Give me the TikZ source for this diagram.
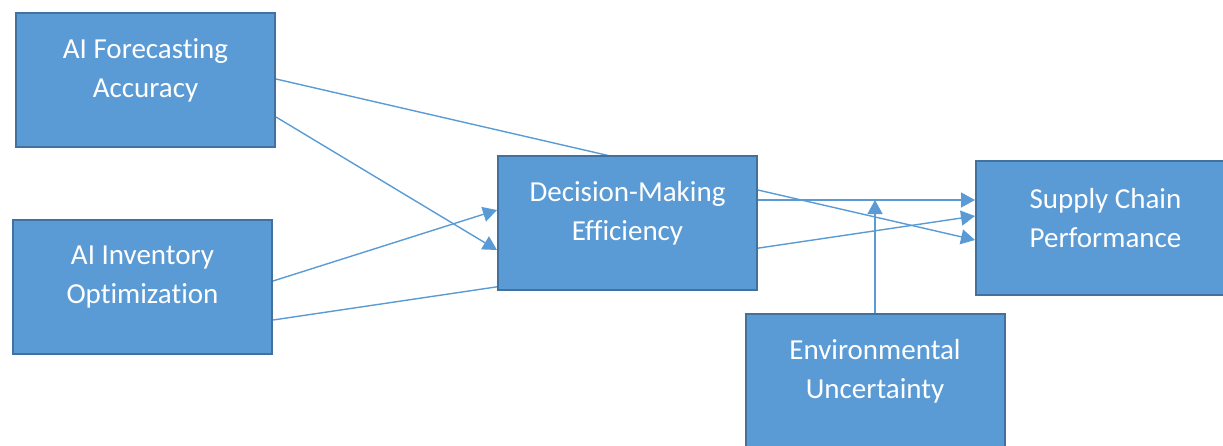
\documentclass[tikz,border=0pt]{standalone}
\usepackage{xcolor}
\usepackage{fontspec}
\setmainfont{Carlito}[Ligatures=NoCommon,Contextuals=NoAlternate]
\usetikzlibrary{arrows.meta,backgrounds}
\definecolor{boxblue}{HTML}{5B9BD5}
\definecolor{boxedge}{HTML}{41719C}

\begin{document}
\begin{tikzpicture}[x=1pt,y=-1pt,
  box/.style={draw=boxedge,fill=boxblue,line width=2pt,minimum width=259pt,minimum height=134pt,inner sep=0pt},
  boxtext/.style={text=white,align=center,font=\fontsize{29}{39}\selectfont},
  link/.style={boxblue,line width=1.4pt},
  arr/.style={link,-{Triangle[length=14pt,width=15pt]}}]
\useasboundingbox (0,0) rectangle (1223,445);

\node[box] (fc) at (145.5,80) {};
\node[boxtext] (fctext) at ([yshift=10pt]fc.center) {AI Forecasting\\Accuracy};
\node[box] (io) at (142.5,287) {};
\node[boxtext] (iotext) at ([yshift=10pt]io.center) {AI Inventory\\Optimization};
\node[box] (dm) at (627.5,223) {};
\node[boxtext] (dmtext) at ([yshift=10pt]dm.center) {Decision-Making\\Efficiency};
\node[box] (sc) at (1105.5,228) {};
\node[boxtext] (sctext) at ([yshift=10pt]sc.center) {Supply Chain\\Performance};
\node[box] (env) at (875,381) {};
\node[boxtext] (envtext) at ([yshift=10pt]env.center) {Environmental\\Uncertainty};

\coordinate (dmout) at ([yshift=23pt]dm.east);
\coordinate (mod) at (env.north |- dmout);

\begin{scope}[on background layer]
\draw[arr] ([yshift=1pt]fc.east) -- ([yshift=-12pt]sc.west);
\draw[arr] ([yshift=-37pt]fc.east) -- ([yshift=-27pt]dm.west);
\draw[arr] ([yshift=6pt]io.east) -- ([yshift=13pt]dm.west);
\draw[arr] ([yshift=-33pt]io.east) -- ([yshift=12pt]sc.west);
\draw[arr] (dmout) -- (dmout -| sc.west);
\draw[arr] (env.north) -- (mod);
\end{scope}
\end{tikzpicture}
\end{document}
